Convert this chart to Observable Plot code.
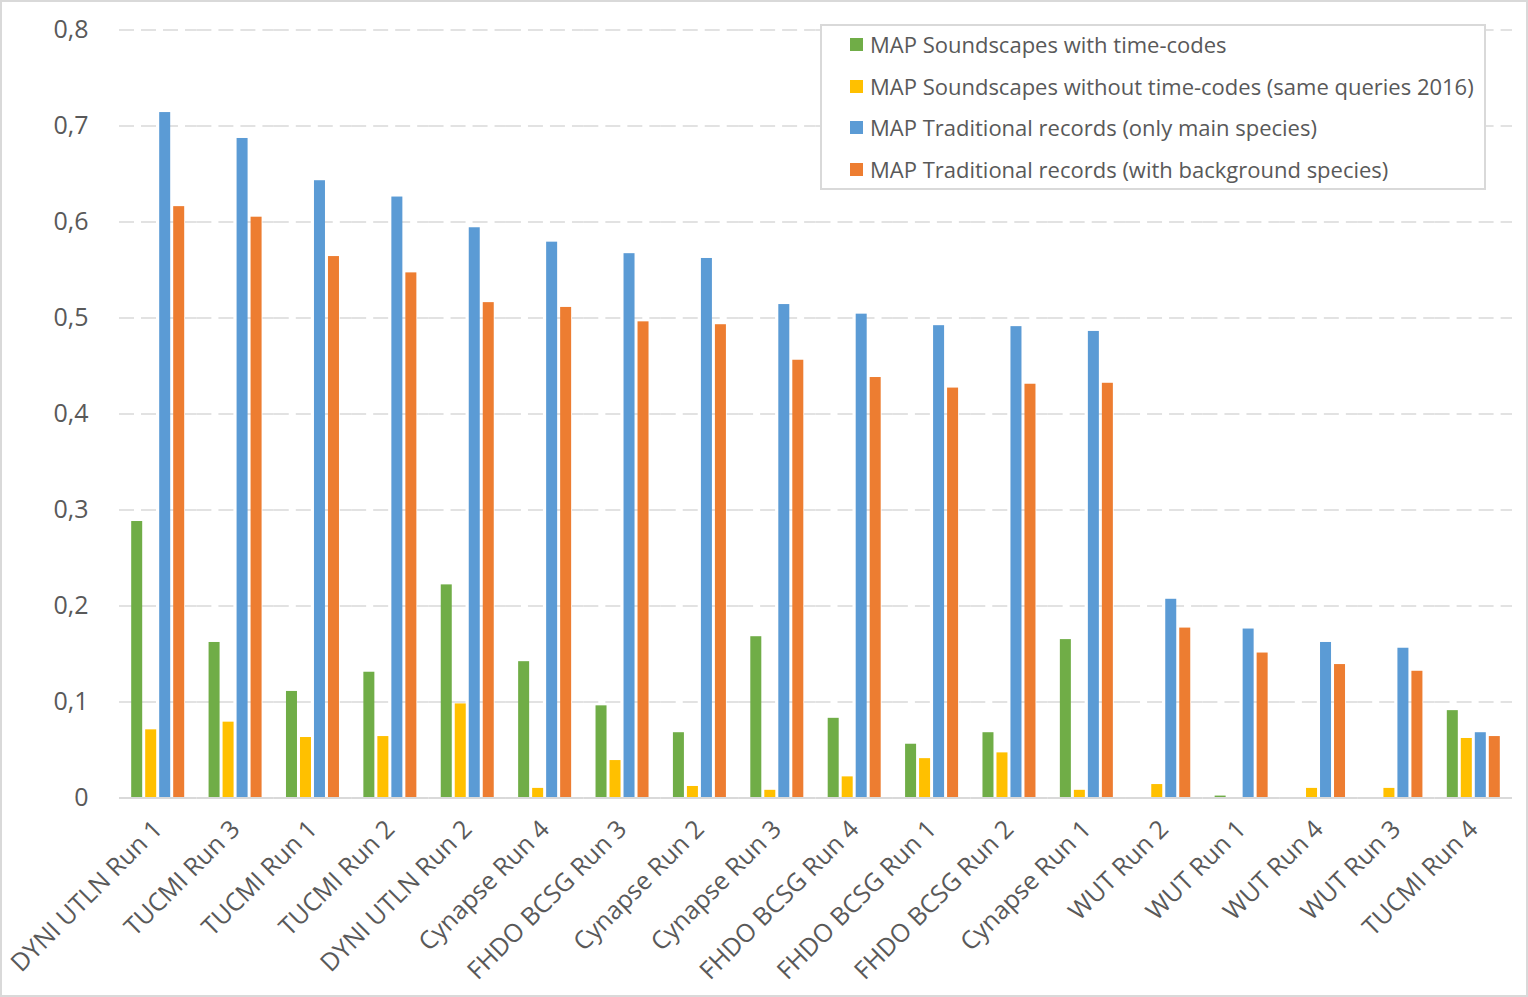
<!DOCTYPE html>
<html>
<head>
<meta charset="utf-8">
<script src="https://cdn.jsdelivr.net/npm/d3@7"></script>
<script src="https://cdn.jsdelivr.net/npm/@observablehq/plot@0.6"></script>
<style>
  html, body { margin: 0; padding: 0; background: #fff; }
  #wrap { position: relative; width: 1528px; height: 997px; overflow: hidden; background: #fff; }
  #frame { position: absolute; left: 0; top: 0; width: 1528px; height: 997px; box-sizing: border-box; border: 2px solid #d9d9d9; pointer-events: none; }
  #legend { position: absolute; left: 820px; top: 24px; width: 666px; height: 166px; box-sizing: border-box;
    border: 2px solid #d9d9d9; background: #fff; font-family: "Open Sans", "Noto Sans", sans-serif; font-size: 22px; color: #595959; }
  .row { position: absolute; left: 28px; height: 26px; display: flex; align-items: center; white-space: nowrap; }
  .sw { width: 13px; height: 13px; margin-right: 7px; flex: none; }
</style>
</head>
<body>
<div id="wrap">
  <div id="chart"></div>
  <div id="legend"></div>
  <div id="frame"></div>
</div>
<script>
const categories = [
  "DYNI UTLN Run 1", "TUCMI Run 3", "TUCMI Run 1", "TUCMI Run 2", "DYNI UTLN Run 2",
  "Cynapse Run 4", "FHDO BCSG Run 3", "Cynapse Run 2", "Cynapse Run 3", "FHDO BCSG Run 4",
  "FHDO BCSG Run 1", "FHDO BCSG Run 2", "Cynapse Run 1", "WUT Run 2", "WUT Run 1",
  "WUT Run 4", "WUT Run 3", "TUCMI Run 4"
];
const seriesNames = [
  "MAP Soundscapes with time-codes",
  "MAP Soundscapes without time-codes (same queries 2016)",
  "MAP Traditional records (only main species)",
  "MAP Traditional records (with background species)"
];
const seriesColors = ["#70ad47", "#ffc000", "#5b9bd5", "#ed7d31"];

const soundscapesWithCodes    = [0.288, 0.162, 0.111, 0.131, 0.222, 0.142, 0.096, 0.068, 0.168, 0.083, 0.056, 0.068, 0.165, 0.000, 0.002, 0.000, 0.000, 0.091];
const soundscapesWithoutCodes = [0.071, 0.079, 0.063, 0.064, 0.098, 0.010, 0.039, 0.012, 0.008, 0.022, 0.041, 0.047, 0.008, 0.014, 0.000, 0.010, 0.010, 0.062];
const traditionalMain         = [0.714, 0.687, 0.643, 0.626, 0.594, 0.579, 0.567, 0.562, 0.514, 0.504, 0.492, 0.491, 0.486, 0.207, 0.176, 0.162, 0.156, 0.068];
const traditionalBackground   = [0.616, 0.605, 0.564, 0.547, 0.516, 0.511, 0.496, 0.493, 0.456, 0.438, 0.427, 0.431, 0.432, 0.177, 0.151, 0.139, 0.132, 0.064];

const yTicks = [0, 0.1, 0.2, 0.3, 0.4, 0.5, 0.6, 0.7, 0.8];
const gridTicks = yTicks.filter(d => d > 0);

const seriesValues = [soundscapesWithCodes, soundscapesWithoutCodes, traditionalMain, traditionalBackground];
const table = categories.flatMap((c, i) =>
  seriesNames.map((s, j) => ({category: c, series: s, value: seriesValues[j][i]}))
);

const fontFamily = '"Open Sans", "Noto Sans", sans-serif';

const chart = Plot.plot({
  width: 1528,
  height: 997,
  marginLeft: 119,
  marginRight: 16,
  marginTop: 29.5,
  marginBottom: 199.5,
  style: {fontFamily, fontSize: "25px", color: "#595959", background: "transparent", overflow: "visible"},
  fx: {domain: categories, padding: 0, round: false, label: null, tickSize: 0, tickPadding: 27, tickRotate: -45},
  x: {domain: seriesNames, paddingInner: 0.214, paddingOuter: 0.871, round: false, axis: null},
  y: {domain: [0, 0.8], ticks: yTicks, tickSize: 0, tickPadding: 31, label: null,
      tickFormat: d => d === 0 ? "0" : d.toFixed(1).replace(".", ",")},
  color: {domain: seriesNames, range: seriesColors},
  marks: [
    Plot.ruleY(gridTicks, {stroke: "#d9d9d9", strokeWidth: 1.5, strokeDasharray: "15,7"}),
    Plot.barY(table, {fx: "category", x: "series", y: "value", fill: "series"}),
    Plot.ruleY([0], {stroke: "#d9d9d9", strokeWidth: 2})
  ]
});
document.getElementById("chart").appendChild(chart);

const legend = document.getElementById("legend");
const rowTops = [5, 47, 88, 130];
seriesNames.forEach((s, i) => {
  const row = document.createElement("div");
  row.className = "row";
  row.style.top = rowTops[i] + "px";
  const sw = document.createElement("div");
  sw.className = "sw";
  sw.style.background = seriesColors[i];
  const t = document.createElement("span");
  t.textContent = s;
  row.appendChild(sw);
  row.appendChild(t);
  legend.appendChild(row);
});
</script>
</body>
</html>
